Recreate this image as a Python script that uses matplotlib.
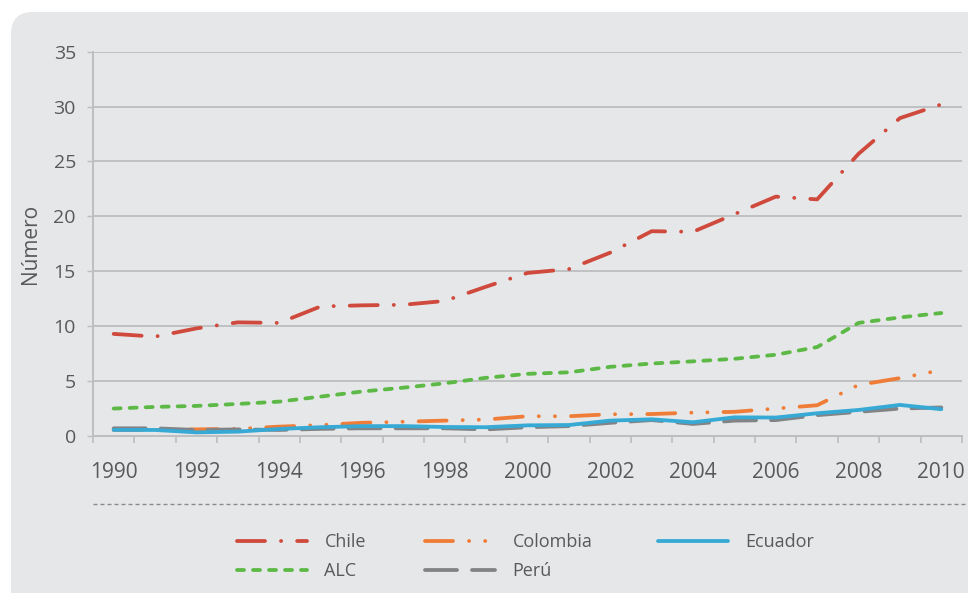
import matplotlib
matplotlib.use("Agg")
import matplotlib.pyplot as plt
import numpy as np
from matplotlib.patches import FancyBboxPatch
from matplotlib.lines import Line2D
from matplotlib.transforms import IdentityTransform

# ---- data ----
years = list(range(1990, 2011))
chile = [9.3, 9.05, 9.8, 10.35, 10.3, 11.8, 11.9, 11.95, 12.3, 13.6, 14.85,
         15.2, 16.7, 18.65, 18.6, 20.2, 21.8, 21.55, 25.7, 28.95, 30.2]
colombia = [0.55, 0.55, 0.6, 0.65, 0.85, 1.0, 1.2, 1.3, 1.4, 1.5, 1.8,
            1.8, 1.98, 2.0, 2.13, 2.2, 2.5, 2.8, 4.65, 5.27, 6.0]
ecuador = [0.55, 0.55, 0.33, 0.4, 0.64, 0.8, 0.9, 0.9, 0.82, 0.8, 0.97,
           1.0, 1.4, 1.52, 1.25, 1.7, 1.68, 2.07, 2.37, 2.83, 2.44]
alc = [2.5, 2.65, 2.74, 2.92, 3.13, 3.59, 4.05, 4.4, 4.8, 5.3, 5.66,
       5.8, 6.3, 6.6, 6.8, 7.03, 7.4, 8.1, 10.3, 10.8, 11.2]
peru = [0.7, 0.7, 0.55, 0.6, 0.55, 0.65, 0.7, 0.7, 0.7, 0.6, 0.8,
        0.9, 1.2, 1.45, 1.1, 1.4, 1.45, 1.9, 2.2, 2.5, 2.6]
y_ticks = [0, 5, 10, 15, 20, 25, 30, 35]
x_labels = [str(y) for y in years[::2]]

# ---- style ----
plt.rcParams["font.family"] = ["Open Sans", "DejaVu Sans"]
plt.rcParams["lines.scale_dashes"] = False
txt = "#58595b"
grid_c = "#bcbec0"
panel_c = "#e6e7e8"

W, H = 968, 593
fig = plt.figure(figsize=(W / 100, H / 100), dpi=100, facecolor="white")

# rounded background panel (pixel coordinates)
panel = FancyBboxPatch((11, -40), 1000, (H - 12) + 40,
                       boxstyle="round,pad=0,rounding_size=22",
                       transform=IdentityTransform(), facecolor=panel_c,
                       edgecolor="none", zorder=0)
fig.add_artist(panel)

left, right, top, bottom = 93, 962, 51.7, 436
ax = fig.add_axes([left / W, (H - bottom) / H, (right - left) / W, (bottom - top) / H])
ax.set_facecolor("none")

x = np.arange(len(years))
px = 0.72  # points per pixel

series = [
    ("Chile", chile, "#cf4a3d", (0, (28 * px, 16 * px, 0.1, 16 * px)), 2),
    ("ALC", alc, "#5cb946", (0, (7 * px, 9 * px)), 3),
    ("Colombia", colombia, "#ef7d37", (0, (28 * px, 16 * px, 0.1, 16 * px, 0.1, 16 * px)), 4),
    ("Perú", peru, "#838385", (0, (32 * px, 15 * px)), 5),
    ("Ecuador", ecuador, "#36a9d5", "-", 6),
]
handles = {}
for name, vals, col, ls, z in series:
    (ln,) = ax.plot(x, vals, color=col, lw=3.8 * px, linestyle=ls,
                    dash_capstyle="round", solid_capstyle="round",
                    solid_joinstyle="round", zorder=z, label=name)
    handles[name] = ln

ax.set_xlim(-0.5, len(years) - 0.5)
ax.set_ylim(0, 35)

# y axis
ax.set_yticks(y_ticks)
ax.set_yticklabels([str(v) for v in y_ticks])
ax.tick_params(axis="y", length=6 * px, width=1, color=grid_c, labelsize=14,
               labelcolor=txt, pad=8)
ax.yaxis.grid(True, color=grid_c, lw=1.3)
ax.set_axisbelow(True)
ax.set_ylabel("Número", fontsize=15, color=txt, labelpad=9)

# x axis: category boundaries as ticks, labels at category centres
ax.set_xticks(np.arange(0, len(years), 2))
ax.set_xticklabels(x_labels)
ax.set_xticks(np.arange(-0.5, len(years) + 0.5, 1), minor=True)
ax.tick_params(axis="x", which="major", length=0, labelsize=15, labelcolor=txt, pad=19)
ax.tick_params(axis="x", which="minor", length=7 * px, width=1.2, color=grid_c)

for s in ["top", "right"]:
    ax.spines[s].set_visible(False)
for s in ["left", "bottom"]:
    ax.spines[s].set_color(grid_c)
    ax.spines[s].set_linewidth(1.4)

# dashed separator above legend
sep_y = 1 - 504 / H
fig.add_artist(Line2D([93 / W, 1.0], [sep_y, sep_y], transform=fig.transFigure,
                      color="#8a8a8c", lw=1, linestyle=(0, (4 * px, 3 * px))))

# legend in three columns
cols = [(["Chile", "ALC"], 237), (["Colombia", "Perú"], 425), (["Ecuador"], 658)]
for names, xpix in cols:
    fig.legend([handles[n] for n in names], names, loc="upper left",
               bbox_to_anchor=(xpix / W, 1 - 533 / H), frameon=False,
               fontsize=13, handlelength=3.9, handletextpad=0.94,
               labelspacing=0.62, borderpad=0, borderaxespad=0,
               labelcolor=txt)

fig.savefig("out.png", dpi=100, facecolor="white")
